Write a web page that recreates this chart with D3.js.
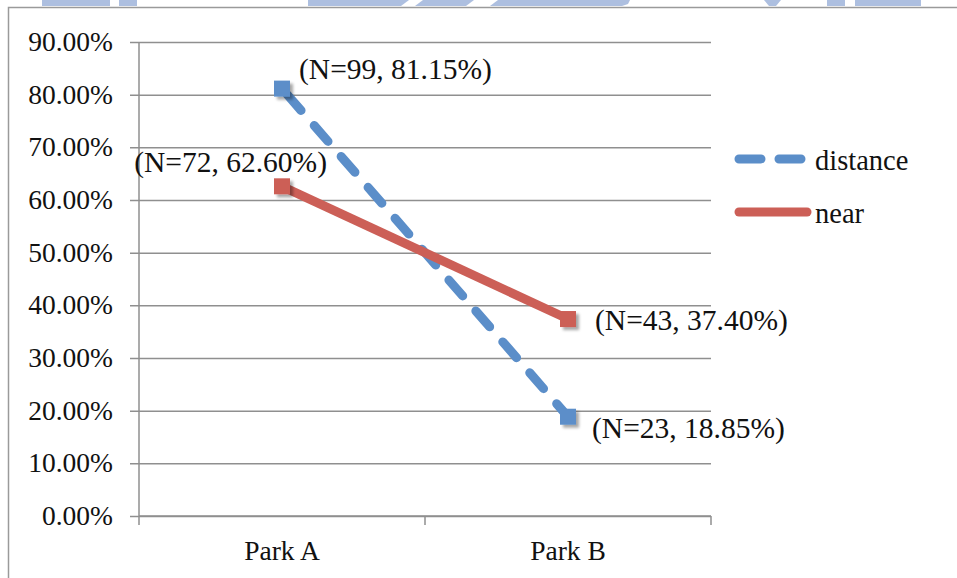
<!DOCTYPE html>
<html>
<head>
<meta charset="utf-8">
<script src="https://cdn.jsdelivr.net/npm/d3@7/dist/d3.min.js"></script>
<style>
  html, body { margin: 0; padding: 0; background: #fff; }
  svg { display: block; }
  text { font-family: "Liberation Serif", "Times New Roman", serif; fill: #111; }
</style>
</head>
<body>
<svg id="chart" width="957" height="578"></svg>
<script>
// Share of visitors per park, split by how far they live from it
const categories = ["Park A", "Park B"];
const distancePct = [81.15, 18.85];
const distanceN = [99, 23];
const nearPct = [62.60, 37.40];
const nearN = [72, 43];
const yTicks = [0, 10, 20, 30, 40, 50, 60, 70, 80, 90];
const seriesNames = ["distance", "near"];

const W = 957, H = 578;
const plot = { left: 139, right: 711, top: 42, bottom: 516 };
const colors = { distance: "#5b8ec9", near: "#cc5f57" };
const gridColor = "#8f8f8f";

const svg = d3.select("#chart");

const defs = svg.append("defs");
const shadow = defs.append("filter").attr("id", "shadow")
  .attr("x", "-50%").attr("y", "-50%").attr("width", "200%").attr("height", "200%");
shadow.append("feGaussianBlur").attr("in", "SourceAlpha").attr("stdDeviation", 1.6).attr("result", "b");
shadow.append("feOffset").attr("in", "b").attr("dx", 2.5).attr("dy", 3).attr("result", "o");
shadow.append("feComponentTransfer").attr("in", "o").attr("result", "s")
  .append("feFuncA").attr("type", "linear").attr("slope", 0.35);
const merge = shadow.append("feMerge");
merge.append("feMergeNode").attr("in", "s");
merge.append("feMergeNode").attr("in", "SourceGraphic");

// banner strip along the top edge
const banner = [
  [[42,0],[110,0],[110,6],[42,6]],
  [[119,0],[137,0],[137,6],[119,6]],
  [[308,0],[409,0],[401,6],[308,6]],
  [[423,0],[474,0],[466,6],[415,6]],
  [[498,0],[630,0],[628,4],[622,6],[490,6]],
  [[764,0],[781,0],[776,6],[769,6]],
  [[827,0],[845,0],[845,6],[827,6]],
  [[855,0],[921,0],[921,6],[855,6]]
];
svg.append("g").selectAll("path").data(banner).join("path")
  .attr("d", d => d3.line()(d) + "Z")
  .attr("fill", "#adbfe0");

// outer frame (top and left edges)
svg.append("path")
  .attr("d", `M${W},7.5H8.5V${H}`)
  .attr("fill", "none").attr("stroke", "#9a9a9a").attr("stroke-width", 1.5);

const x = d3.scaleBand().domain(categories).range([plot.left, plot.right]).padding(0);
const y = d3.scaleLinear().domain([0, 90]).range([plot.bottom, plot.top]);

// horizontal gridlines with left tick stubs
svg.append("g")
  .attr("transform", `translate(${plot.left},0)`)
  .call(d3.axisLeft(y).tickValues(yTicks).tickSize(-(plot.right - plot.left)).tickFormat(""))
  .call(g => g.select(".domain").remove())
  .call(g => g.selectAll(".tick line")
    .attr("x1", -9).attr("stroke", gridColor).attr("stroke-width", 1.5));

// y tick labels
svg.append("g").selectAll("text").data(yTicks).join("text")
  .attr("x", 113).attr("y", d => y(d) + 9)
  .attr("text-anchor", "end")
  .attr("font-size", 27.5)
  .text(d => d.toFixed(2) + "%");

// vertical axis line
svg.append("line")
  .attr("x1", plot.left).attr("x2", plot.left)
  .attr("y1", plot.top).attr("y2", plot.bottom)
  .attr("stroke", gridColor).attr("stroke-width", 1.5);

// category axis: boundary ticks between bands
const bounds = [plot.left].concat(categories.map(c => x(c) + x.bandwidth()));
const xAxis = svg.append("g");
xAxis.append("line")
  .attr("x1", plot.left).attr("x2", plot.right)
  .attr("y1", plot.bottom).attr("y2", plot.bottom)
  .attr("stroke", gridColor).attr("stroke-width", 1.5);
xAxis.selectAll("line.tk").data(bounds).join("line").attr("class", "tk")
  .attr("x1", d => d).attr("x2", d => d)
  .attr("y1", plot.bottom).attr("y2", plot.bottom + 9)
  .attr("stroke", gridColor).attr("stroke-width", 1.5);
xAxis.selectAll("text").data(categories).join("text")
  .attr("x", d => x(d) + x.bandwidth() / 2)
  .attr("y", 560)
  .attr("text-anchor", "middle")
  .attr("font-size", 27.5)
  .text(d => d);

const cx = c => x(c) + x.bandwidth() / 2;
const line = d3.line().x((d, i) => cx(categories[i])).y(d => y(d));

const series = [
  { key: "distance", pct: distancePct, n: distanceN, dash: "21 20" },
  { key: "near", pct: nearPct, n: nearN, dash: null }
];

// series lines
series.forEach(s => {
  svg.append("path")
    .datum(s.pct)
    .attr("d", line)
    .attr("fill", "none")
    .attr("stroke", colors[s.key])
    .attr("stroke-width", 9)
    .attr("stroke-linecap", s.dash ? "round" : "butt")
    .attr("stroke-dasharray", s.dash)
    .attr("stroke-dashoffset", s.dash ? -8 : null);
});

// square markers
series.forEach(s => {
  svg.append("g").selectAll("rect").data(s.pct).join("rect")
    .attr("x", (d, i) => cx(categories[i]) - 8)
    .attr("y", d => y(d) - 8)
    .attr("width", 16).attr("height", 16)
    .attr("fill", colors[s.key])
    .attr("filter", "url(#shadow)");
});

// data labels: placement per point
const labelPlace = {
  distance: [{ dx: 17, dy: -10, anchor: "start" }, { dx: 24, dy: 21, anchor: "start" }],
  near: [{ dx: 45, dy: -14, anchor: "end" }, { dx: 27, dy: 11, anchor: "start" }]
};
series.forEach(s => {
  svg.append("g").selectAll("text").data(s.pct).join("text")
    .attr("x", (d, i) => cx(categories[i]) + labelPlace[s.key][i].dx)
    .attr("y", (d, i) => y(d) + labelPlace[s.key][i].dy)
    .attr("text-anchor", (d, i) => labelPlace[s.key][i].anchor)
    .attr("font-size", 29.5)
    .text((d, i) => `(N=${s.n[i]}, ${d.toFixed(2)}%)`);
});

// legend
const legend = svg.append("g");
const legendRows = [
  { key: "distance", y: 159, x2: 805, dash: "22 18", cap: "round" },
  { key: "near", y: 212, x2: 811, dash: null, cap: "round" }
];
legendRows.forEach(r => {
  legend.append("line")
    .attr("x1", 739).attr("x2", r.x2 - 4)
    .attr("y1", r.y).attr("y2", r.y)
    .attr("stroke", colors[r.key])
    .attr("stroke-width", 9)
    .attr("stroke-linecap", r.cap)
    .attr("stroke-dasharray", r.dash);
  legend.append("text")
    .attr("x", 815).attr("y", r.y + 11)
    .attr("font-size", 28.5)
    .text(r.key);
});
</script>
</body>
</html>
